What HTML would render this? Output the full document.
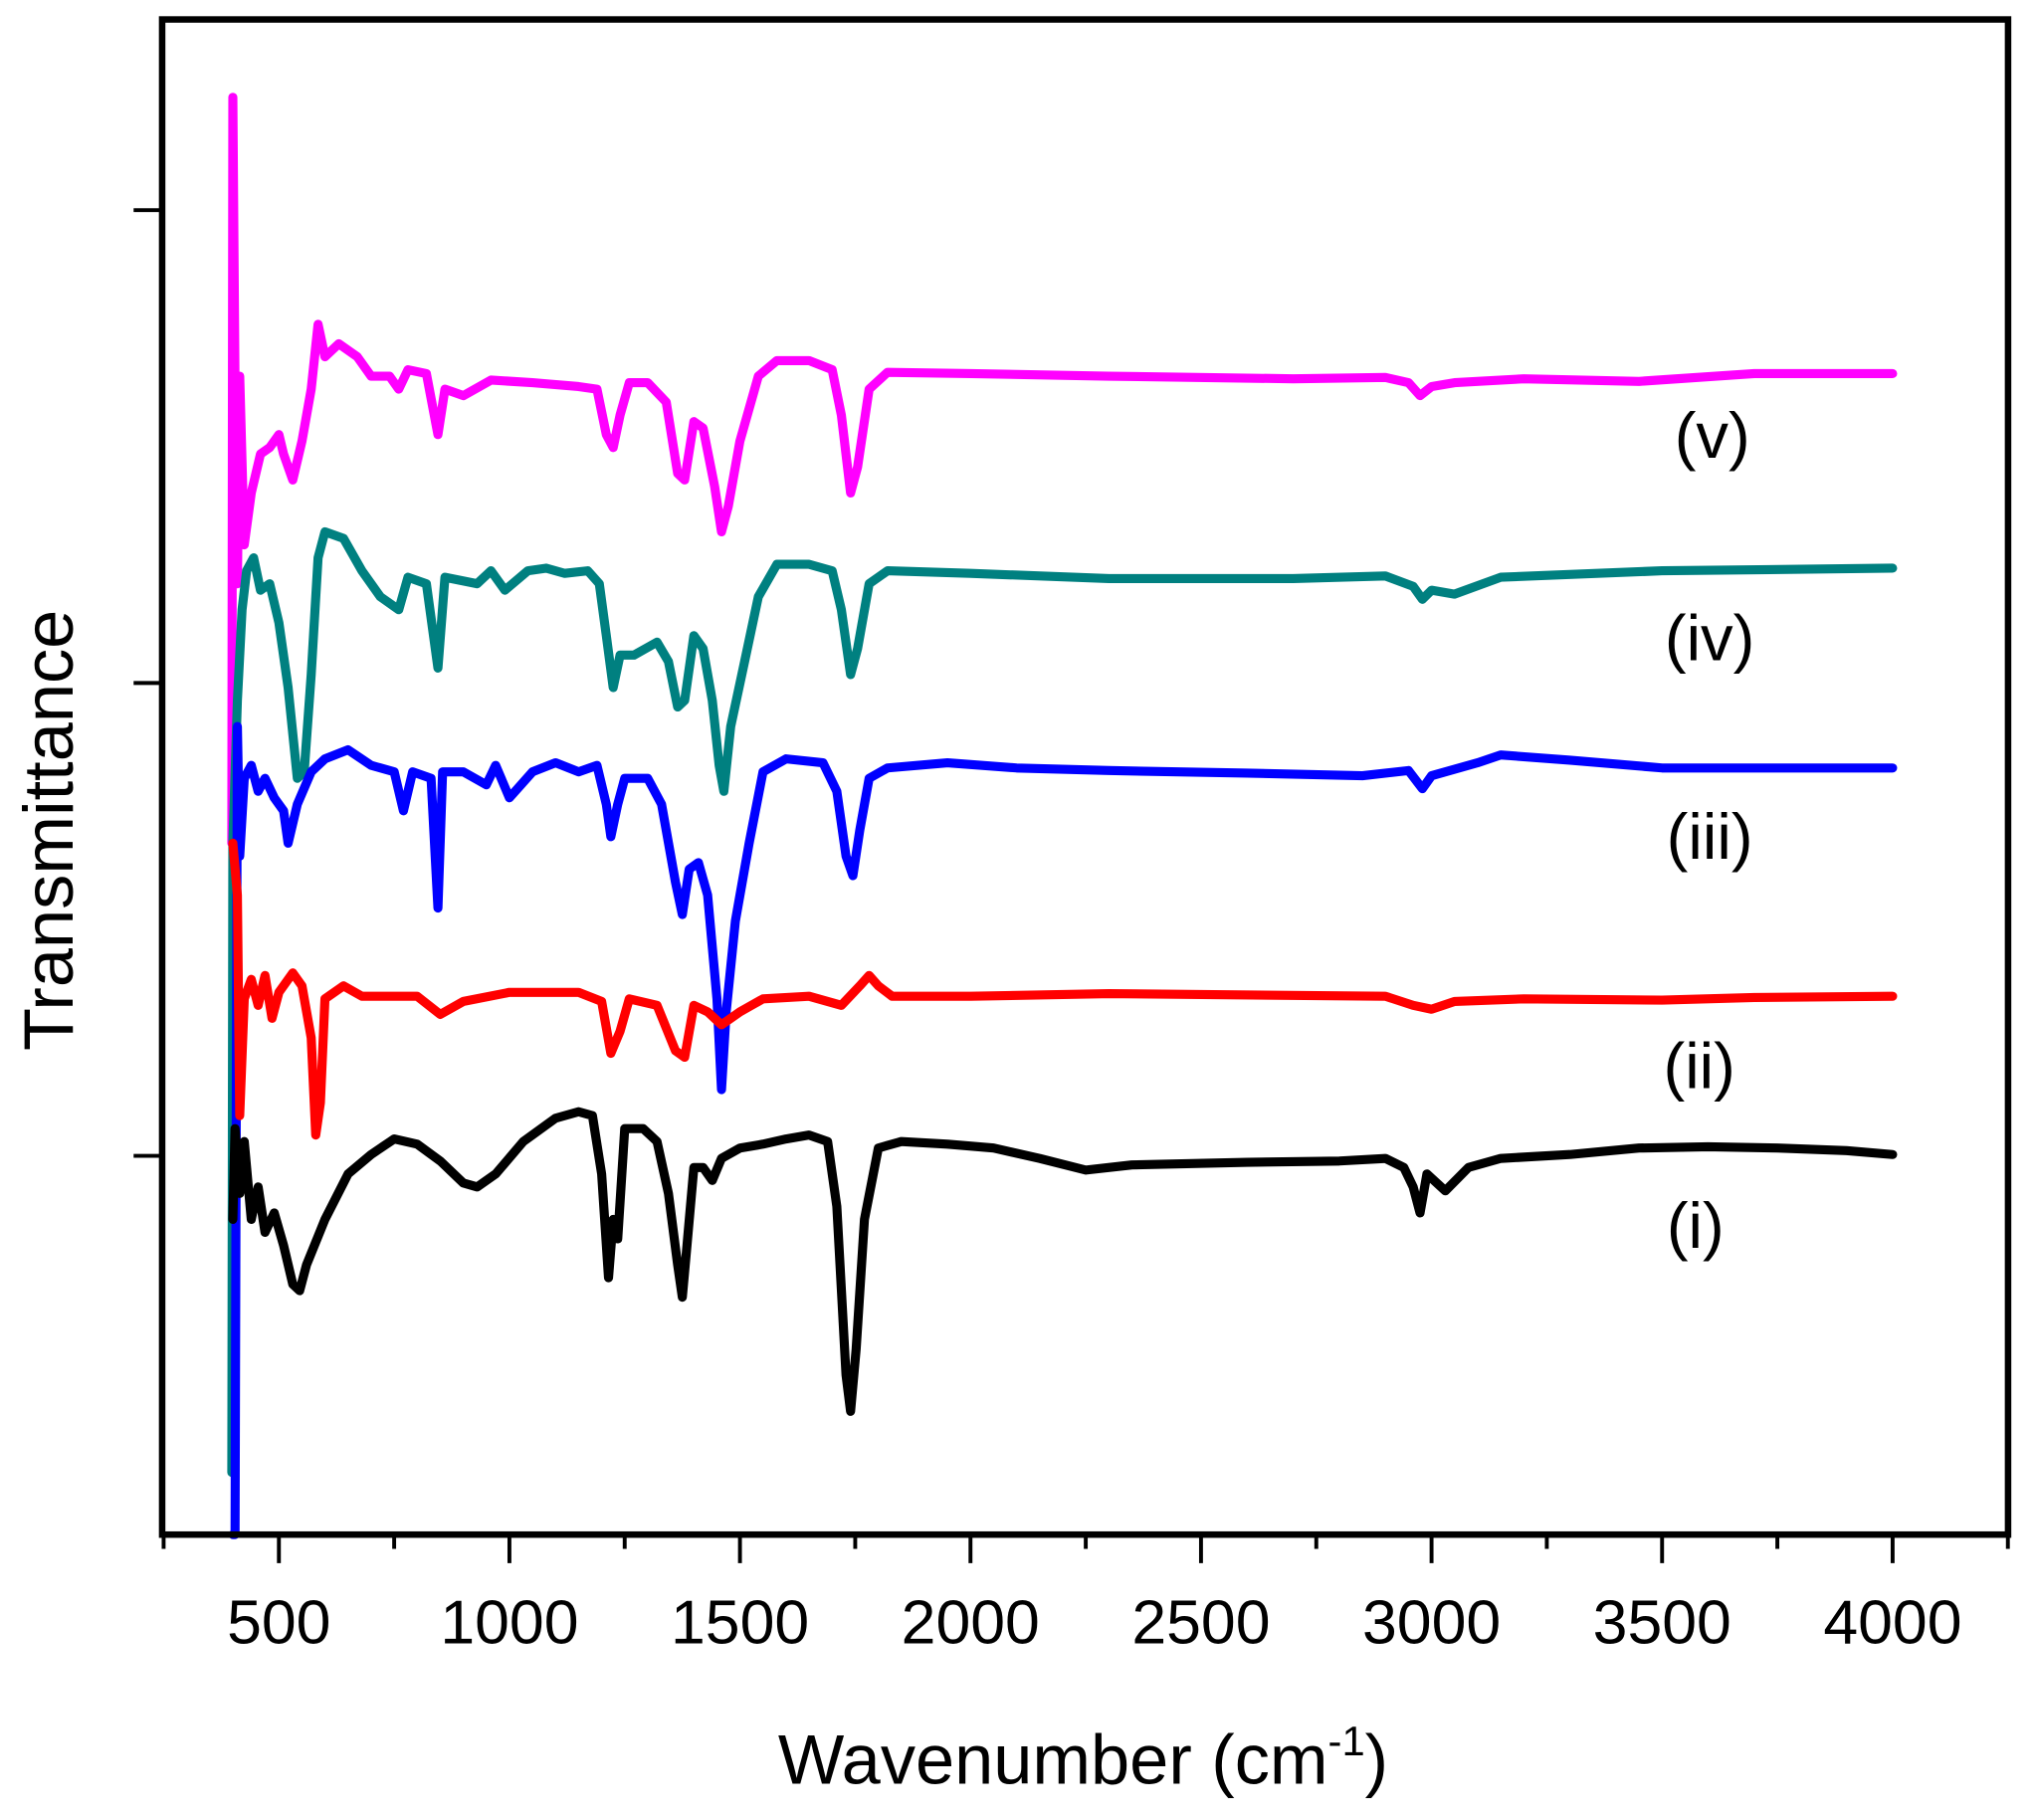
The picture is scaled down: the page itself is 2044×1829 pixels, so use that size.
<!DOCTYPE html>
<html><head><meta charset="utf-8"><style>
html,body{margin:0;padding:0;background:#fff;}
svg{display:block;}
text{font-family:"Liberation Sans",Arial,sans-serif;fill:#000;}
</style></head>
<body>
<svg id="chart" width="2044" height="1829" viewBox="0 0 1568 1403" preserveAspectRatio="none" xmlns="http://www.w3.org/2000/svg">
<rect x="0" y="0" width="1568" height="1403" fill="#fff"/>
<g id="series"></g>
<rect x="125" y="15" width="1423" height="1168" fill="none" stroke="#000" stroke-width="5"/>
<g id="axes"></g>
<text x="835" y="1375" font-size="54" text-anchor="middle">Wavenumber (cm<tspan dy="-22" font-size="32">-1</tspan><tspan dy="22">)</tspan></text>
<text transform="translate(56,640) rotate(-90)" font-size="54" text-anchor="middle">Transmittance</text>
<text x="1320" y="353" font-size="50" text-anchor="middle">(v)</text>
<text x="1318" y="509" font-size="50" text-anchor="middle">(iv)</text>
<text x="1318" y="662" font-size="50" text-anchor="middle">(iii)</text>
<text x="1310" y="839" font-size="50" text-anchor="middle">(ii)</text>
<text x="1307" y="962" font-size="50" text-anchor="middle">(i)</text>
</svg>
<script>
const xTicksMajor = [500,1000,1500,2000,2500,3000,3500,4000];
const xTicksMinor = [250,750,1250,1750,2250,2750,3250,3750,4250];
const yTicks = [0, 364.5, 729];
const wI = [400,405,415,425,440,455,470,490,510,530,545,560,600,650,700,750,800,850,900,930,970,1030,1100,1150,1180,1200,1215,1225,1235,1250,1290,1320,1345,1365,1375,1385,1400,1420,1440,1460,1500,1550,1600,1650,1690,1710,1730,1740,1752,1770,1800,1850,1950,2050,2150,2250,2350,2600,2800,2900,2940,2960,2975,2990,3030,3080,3150,3300,3450,3600,3750,3900,4000];
const tI = [-49,21,-29,11,-49,-24,-59,-44,-69,-99,-104,-84,-49,-14,1,13,9,-4,-21,-24,-14,11,29,34,31,-14,-94,-49,-64,21,21,11,-29,-84,-109,-69,-9,-9,-19,-2,6,9,13,16,11,-39,-169,-197,-149,-49,6,11,9,6,-2,-11,-7,-5,-4,-2,-9,-24,-44,-14,-27,-9,-2,1,6,7,6,4,1];
const wII = [400,410,415,425,440,455,470,485,500,530,550,570,580,590,600,640,680,800,850,900,1000,1150,1200,1220,1240,1260,1320,1360,1380,1400,1430,1460,1500,1550,1650,1720,1760,1780,1800,1830,2000,2300,2900,2960,3000,3050,3200,3500,3700,4000];
const tII = [241,201,31,121,136,116,139,106,126,141,131,91,16,41,121,131,123,123,109,119,126,126,119,79,96,121,116,81,76,116,111,101,111,121,123,116,131,139,131,123,123,125,123,116,113,119,121,120,122,123];
const wIII = [400,405,410,415,425,440,455,470,490,510,520,540,570,600,650,700,750,770,790,830,845,855,900,950,970,1000,1050,1100,1150,1190,1210,1220,1235,1250,1300,1330,1360,1375,1390,1410,1430,1450,1460,1470,1490,1520,1550,1600,1680,1710,1730,1745,1760,1780,1820,1950,2100,2300,2600,2850,2950,2980,3000,3100,3150,3300,3500,4000];
const tIII = [-292,-292,331,231,291,301,281,291,276,266,241,271,296,306,313,301,296,266,296,291,191,296,296,286,301,276,296,303,296,301,271,246,271,291,291,271,211,186,221,226,201,121,51,111,181,241,296,306,303,281,231,216,251,291,299,303,299,297,295,293,297,283,293,303,309,305,299,299];
const wIV = [398,400,410,420,430,445,460,480,500,520,540,555,570,585,600,640,680,720,760,780,820,845,860,930,960,990,1040,1080,1120,1170,1195,1210,1225,1240,1270,1320,1345,1365,1380,1400,1420,1440,1455,1465,1480,1510,1540,1580,1650,1700,1720,1740,1755,1780,1820,2000,2300,2700,2900,2960,2980,3000,3050,3150,3500,4000];
const tIV = [-244,241,351,421,451,461,436,441,411,361,291,296,371,461,481,476,451,431,421,446,441,376,446,441,451,436,451,453,449,451,441,401,361,386,386,396,381,346,351,401,391,351,301,281,331,381,431,456,456,451,421,371,391,441,451,449,445,445,447,439,429,436,433,446,451,453];
const wV = [398,400,405,410,415,425,440,460,480,500,510,530,550,570,585,600,630,670,700,740,760,780,820,845,860,900,960,1050,1150,1190,1210,1225,1240,1260,1300,1340,1365,1380,1400,1420,1445,1460,1475,1500,1540,1580,1650,1700,1720,1740,1755,1780,1820,2000,2300,2700,2900,2950,2975,3000,3050,3200,3450,3700,4000];
const tV = [241,816,591,441,601,471,511,541,546,556,541,521,551,591,641,616,626,616,601,601,591,606,603,556,591,586,598,596,593,591,556,546,571,596,596,581,526,521,566,561,516,481,501,551,601,613,613,606,571,511,531,591,604,603,601,599,600,596,586,593,596,599,597,603,603];

const xScale = w => 215 + (w - 500) * 0.35543;
const yScale = v => 891 - v;
const NS = 'http://www.w3.org/2000/svg';
const axes = document.getElementById('axes');
const series = document.getElementById('series');

xTicksMajor.forEach(t => {
  const l = document.createElementNS(NS, 'line');
  
  
  l.setAttribute('x1', xScale(t)); l.setAttribute('x2', xScale(t));
  l.setAttribute('y1', 1183); l.setAttribute('y2', 1205);
  l.setAttribute('stroke', '#000'); l.setAttribute('stroke-width', 3);
  axes.appendChild(l);
  const tx = document.createElementNS(NS, 'text');
  
  
  tx.setAttribute('x', xScale(t)); tx.setAttribute('y', 1267);
  tx.setAttribute('font-size', '48'); tx.setAttribute('text-anchor', 'middle');
  tx.textContent = t;
  axes.appendChild(tx);
});
xTicksMinor.forEach(t => {
  const l = document.createElementNS(NS, 'line');
  
  
  l.setAttribute('x1', xScale(t)); l.setAttribute('x2', xScale(t));
  l.setAttribute('y1', 1183); l.setAttribute('y2', 1194);
  l.setAttribute('stroke', '#000'); l.setAttribute('stroke-width', 3);
  axes.appendChild(l);
});
yTicks.forEach(t => {
  const l = document.createElementNS(NS, 'line');
  
  
  l.setAttribute('x1', 103); l.setAttribute('x2', 125);
  l.setAttribute('y1', yScale(t)); l.setAttribute('y2', yScale(t));
  l.setAttribute('stroke', '#000'); l.setAttribute('stroke-width', 3);
  axes.appendChild(l);
});

function drawSeries(ws, ts, color, name) {
  const p = document.createElementNS(NS, 'polyline');
  
  
  p.setAttribute('points', ws.map((w, i) => xScale(w).toFixed(1) + ',' + Math.min(1183, yScale(ts[i])).toFixed(1)).join(' '));
  p.setAttribute('fill', 'none');
  p.setAttribute('stroke', color);
  p.setAttribute('stroke-width', 7);
  p.setAttribute('stroke-linejoin', 'round');
  p.setAttribute('stroke-linecap', 'round');
  series.appendChild(p);
}
drawSeries(wV, tV, '#ff00ff', 'series-v');
drawSeries(wIV, tIV, '#008080', 'series-iv');
drawSeries(wIII, tIII, '#0000ff', 'series-iii');
drawSeries(wII, tII, '#ff0000', 'series-ii');
drawSeries(wI, tI, '#000000', 'series-i');
</script>
</body></html>
